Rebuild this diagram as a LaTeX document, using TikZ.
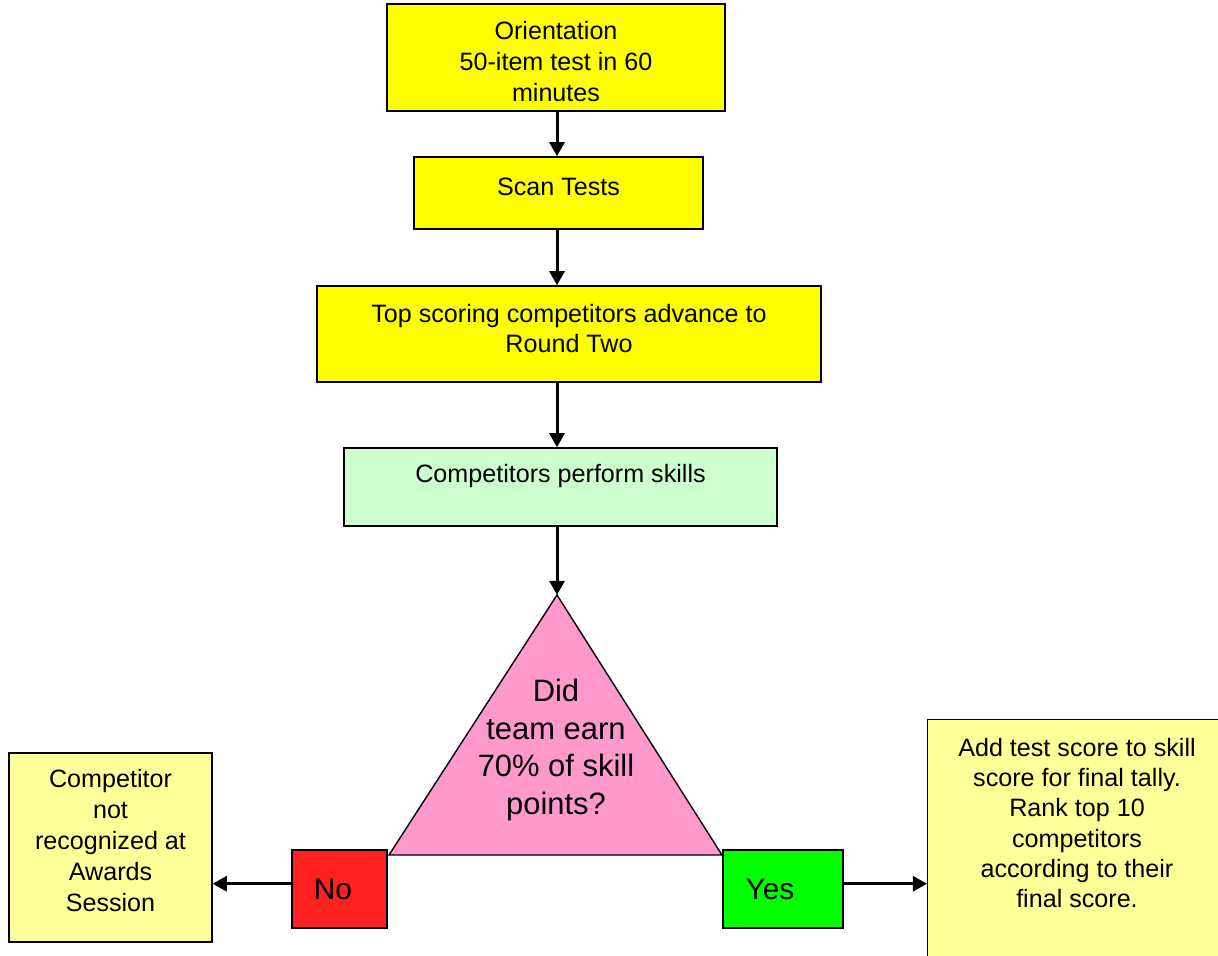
\documentclass[tikz,border=0pt]{standalone}
\usepackage{fontspec}
\setmainfont{Liberation Sans}
\definecolor{stepYellow}{RGB}{255,255,0}
\definecolor{skillGreen}{RGB}{204,255,204}
\definecolor{askPink}{RGB}{255,153,204}
\definecolor{noRed}{RGB}{255,32,32}
\definecolor{yesGreen}{RGB}{0,255,0}
\definecolor{paleYellow}{RGB}{255,255,153}
\usetikzlibrary{positioning,calc,arrows.meta}

\begin{document}
\begin{tikzpicture}[
                box/.style={draw=black,line width=0.8pt,align=center,inner sep=0pt,
                           font=\fontsize{14.3}{17.6}\selectfont},
                flow/.style={line width=1.7pt,-{Triangle[length=8pt,width=8.5pt]}}
            ]
                \useasboundingbox (0,0) rectangle (24.36,-19.12);
                \clip (0,0) rectangle (24.36,-19.12);

                \node[box,fill=stepYellow,minimum width=6.76cm,text height=1.95cm,text depth=0.19cm] (orient) at (11.12,-1.15) {Orientation\\50-item test in 60\\minutes};
                \node[box,fill=stepYellow,minimum width=5.78cm,text height=0.78cm,text depth=0.66cm] (scan) at (11.17,-3.86) {Scan Tests};
                \node[box,fill=stepYellow,minimum width=10.08cm,text height=1.34cm,text depth=0.58cm] (top) at (11.38,-6.68) {Top scoring competitors advance to\\Round Two};
                \node[box,fill=skillGreen,minimum width=8.66cm,text height=0.70cm,text depth=0.86cm] (comp) at (11.21,-9.74) {Competitors perform skills};

                \coordinate (apex) at (11.14,-11.9);
                \coordinate (baseL) at (7.78,-17.1);
                \coordinate (baseR) at (14.44,-17.1);
                \draw[fill=askPink,line width=0.8pt] (apex) -- (baseR) -- (baseL) -- cycle;
                \node[align=center,font=\fontsize{17.6}{21.5}\selectfont] (ask) at (11.12,-15.0) {Did\\team earn\\70\% of skill\\points?};

                \node[box,fill=noRed,minimum width=1.9cm,minimum height=1.56cm,font=\fontsize{17}{20}\selectfont] (no) at (6.79,-17.78) {\hspace*{-7.4pt}No};
                \node[box,fill=yesGreen,minimum width=2.4cm,minimum height=1.56cm,font=\fontsize{17}{20}\selectfont] (yes) at (15.66,-17.78) {\hspace*{-14.8pt}Yes};

                \node[box,fill=paleYellow,minimum width=4.06cm,text height=3.16cm,text depth=0.62cm] (left) at (2.21,-16.95) {Competitor\\not\\recognized at\\Awards\\Session};
                \node[box,fill=paleYellow,minimum width=6.02cm,minimum height=5.22cm,anchor=north west] (tally) at (18.54,-14.38) {};
                \node[align=center,font=\fontsize{14.3}{17.2}\selectfont] (tallytext) at (21.54,-16.46) {Add test score to skill\\score for final tally.\\Rank top 10\\competitors\\according to their\\final score.};

                \draw[flow] (orient.south -| apex) -- (scan.north -| apex);
                \draw[flow] (scan.south -| apex) -- (top.north -| apex);
                \draw[flow] (top.south -| apex) -- (comp.north -| apex);
                \draw[flow] (comp.south -| apex) -- (apex);
                \draw[flow] ([yshift=3pt]no.west) -- ([yshift=3pt]no.west -| left.east);
                \draw[flow] ([yshift=3pt]yes.east) -- ([yshift=3pt]yes.east -| tally.west);
            \end{tikzpicture}
\end{document}
